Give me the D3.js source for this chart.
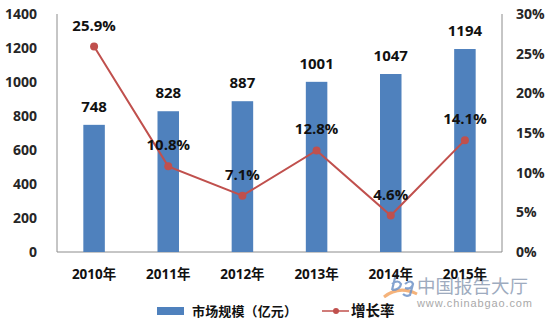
<!DOCTYPE html>
<html>
<head>
<meta charset="utf-8">
<script src="https://cdn.jsdelivr.net/npm/d3@7/dist/d3.min.js"></script>
<style>
  html, body { margin: 0; padding: 0; background: #fff; }
  svg { display: block; font-family: "Open Sans", "Noto Sans CJK SC", sans-serif; }
</style>
</head>
<body>
<svg id="chart" width="550" height="324"></svg>
<script>
// Market size (100 million yuan) and year-on-year growth, 2010-2015
const years = ["2010年", "2011年", "2012年", "2013年", "2014年", "2015年"];
const marketSize = [748, 828, 887, 1001, 1047, 1194];
const growthRate = [25.9, 10.8, 7.1, 12.8, 4.6, 14.1];
const leftTicks = [0, 200, 400, 600, 800, 1000, 1200, 1400];
const rightTicks = [0, 5, 10, 15, 20, 25, 30];
const legendLabels = ["市场规模（亿元）", "增长率"];

(function draw() {
  const svg = d3.select("#chart");
  const pLeft = 57, pRight = 502, pTop = 14, pBottom = 252;
  const barColor = "#4F81BD", lineColor = "#C0504D", axisColor = "#8c8c8c";

  const x = d3.scaleBand().domain(years).range([pLeft, pRight]).paddingInner(0.71).paddingOuter(0.355);
  const yL = d3.scaleLinear().domain([0, 1400]).range([pBottom, pTop]);
  const yR = d3.scaleLinear().domain([0, 30]).range([pBottom, pTop]);

  // watermark logo and site name (drawn first so chart text sits above it)
  const wm = svg.append("g");
  wm.append("path").attr("d", "M384,297 Q399,285 417,294")
    .attr("fill", "none").attr("stroke", "#f2a05a").attr("stroke-width", 3).attr("opacity", 0.8);
  wm.append("path")
    .attr("d", "M396,274 L392,290 M392,284 Q398,279 401,284 Q400,290 392,290 M405,284 Q411,279 413,284 Q411,290 405,288 M413,284 L410,295 Q406,297 403,294")
    .attr("fill", "none").attr("stroke", "#6f93c8").attr("stroke-width", 2.2).attr("opacity", 0.85);
  wm.append("text").attr("x", 417).attr("y", 293).attr("font-size", 18.5)
    .attr("fill", "#8797b0").attr("opacity", 0.8)
    .attr("font-family", "Noto Sans CJK SC, sans-serif").text("中国报告大厅");
  wm.append("text").attr("x", 417).attr("y", 307).attr("font-size", 11).attr("textLength", 115)
    .attr("fill", "#9a9a9a").attr("opacity", 0.85)
    .attr("font-family", "Liberation Sans, sans-serif").text("www.chinabgao.com");

  // frame: left, bottom and right axis lines
  svg.append("path")
    .attr("d", `M${pLeft},${pTop}V${pBottom}H${pRight}V${pTop}`)
    .attr("fill", "none").attr("stroke", axisColor).attr("stroke-width", 1);

  // left axis tick labels
  const axL = svg.append("g").attr("transform", `translate(${pLeft},0)`)
    .call(d3.axisLeft(yL).tickValues(leftTicks).tickFormat(d3.format("d")).tickSize(0).tickPadding(20));
  axL.select(".domain").remove();
  axL.selectAll("text").attr("font-size", 14).attr("font-weight", "bold")
    .attr("fill", "#262626").attr("font-family", "Open Sans, sans-serif");

  // right axis tick labels
  const axR = svg.append("g").attr("transform", `translate(${pRight},0)`)
    .call(d3.axisRight(yR).tickValues(rightTicks).tickFormat(d => d + "%").tickSize(0).tickPadding(14));
  axR.select(".domain").remove();
  axR.selectAll("text").attr("font-size", 14).attr("font-weight", "bold")
    .attr("fill", "#262626").attr("font-family", "Open Sans, sans-serif");

  // category labels
  const axX = svg.append("g").attr("transform", `translate(0,${pBottom})`)
    .call(d3.axisBottom(x).tickSize(0).tickPadding(17));
  axX.select(".domain").remove();
  axX.selectAll("text").attr("font-size", 13.5).attr("font-weight", "bold")
    .attr("fill", "#111").attr("font-family", "Open Sans, Noto Sans CJK SC, sans-serif");

  // bars
  svg.append("g").selectAll("rect").data(marketSize).join("rect")
    .attr("x", (d, i) => x(years[i]))
    .attr("y", d => yL(d))
    .attr("width", x.bandwidth())
    .attr("height", d => pBottom - yL(d))
    .attr("fill", barColor);

  // bar value labels
  svg.append("g").selectAll("text").data(marketSize).join("text")
    .attr("x", (d, i) => x(years[i]) + x.bandwidth() / 2)
    .attr("y", d => yL(d) - 13)
    .attr("text-anchor", "middle")
    .attr("font-size", 15).attr("font-weight", "bold").attr("fill", "#111")
    .text(d => d);

  // growth line
  const cx = (d, i) => x(years[i]) + x.bandwidth() / 2;
  svg.append("path").datum(growthRate)
    .attr("d", d3.line().x(cx).y(d => yR(d)))
    .attr("fill", "none").attr("stroke", lineColor).attr("stroke-width", 2);
  svg.append("g").selectAll("circle").data(growthRate).join("circle")
    .attr("cx", cx).attr("cy", d => yR(d)).attr("r", 4).attr("fill", lineColor);

  // growth labels
  svg.append("g").selectAll("text").data(growthRate).join("text")
    .attr("x", cx)
    .attr("y", d => yR(d) - 16)
    .attr("text-anchor", "middle")
    .attr("font-size", 15).attr("font-weight", "bold").attr("fill", "#111")
    .text(d => d.toFixed(1) + "%");

  // legend
  const lg = svg.append("g").attr("font-weight", "bold").attr("fill", "#111")
    .attr("font-family", "Noto Sans CJK SC, sans-serif");
  lg.append("rect").attr("x", 157).attr("y", 307).attr("width", 27).attr("height", 8).attr("fill", barColor);
  lg.append("text").attr("x", 192).attr("y", 316).attr("font-size", 13)
    .attr("textLength", 105).text(legendLabels[0]);
  lg.append("line").attr("x1", 322).attr("x2", 349).attr("y1", 311).attr("y2", 311)
    .attr("stroke", lineColor).attr("stroke-width", 1.5);
  lg.append("circle").attr("cx", 336).attr("cy", 311).attr("r", 3).attr("fill", lineColor);
  lg.append("text").attr("x", 351).attr("y", 316).attr("font-size", 14.5).text(legendLabels[1]);
})();
</script>
</body>
</html>
